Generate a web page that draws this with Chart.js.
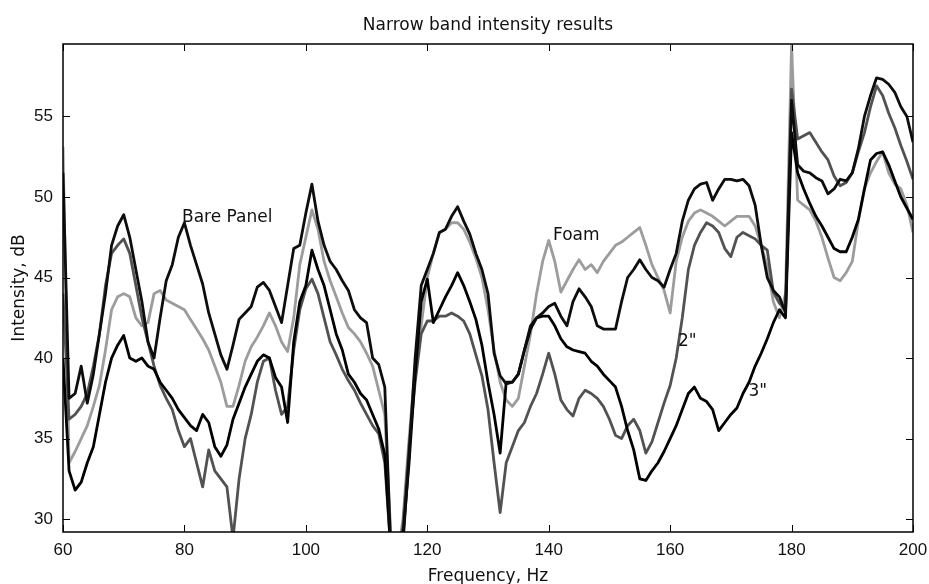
<!DOCTYPE html>
<html>
<head>
<meta charset="utf-8">
<title>Narrow band intensity results</title>
<script src="https://cdn.jsdelivr.net/npm/chart.js@4.4.1/dist/chart.umd.min.js"></script>
<style>
  html, body { margin: 0; padding: 0; background: #fff; overflow: hidden; }
  canvas { display: block; }
</style>
</head>
<body>
<canvas id="myChart" width="929" height="584"></canvas>
<script>
// frequency axis, Hz
const freq = [
  60, 61, 62, 63, 64, 65, 66, 67, 68, 69, 70, 71, 72, 73, 74, 75, 76, 77, 78, 79,
  80, 81, 82, 83, 84, 85, 86, 87, 88, 89, 90, 91, 92, 93, 94, 95, 96, 97, 98, 99,
  100, 101, 102, 103, 104, 105, 106, 107, 108, 109, 110, 111, 112, 113, 114, 115, 116, 117, 118, 119,
  120, 121, 122, 123, 124, 125, 126, 127, 128, 129, 130, 131, 132, 133, 134, 135, 136, 137, 138, 139,
  140, 141, 142, 143, 144, 145, 146, 147, 148, 149, 150, 151, 152, 153, 154, 155, 156, 157, 158, 159,
  160, 161, 162, 163, 164, 165, 166, 167, 168, 169, 170, 171, 172, 173, 174, 175, 176, 177, 178, 179,
  180, 181, 182, 183, 184, 185, 186, 187, 188, 189, 190, 191, 192, 193, 194, 195, 196, 197, 198, 199,
  200
];

// intensity, dB (one value per Hz)
const barePanel = [
  51.5, 37.5, 37.8, 39.5, 37.2, 39.0, 41.5, 44.0, 47.0, 48.2,
  48.9, 47.5, 45.5, 43.5, 41.0, 40.0, 42.5, 44.8, 45.8, 47.5,
  48.4, 47.0, 45.8, 44.6, 42.8, 41.5, 40.2, 39.3, 40.8, 42.4,
  42.8, 43.2, 44.4, 44.7, 44.2, 43.2, 42.2, 44.5, 46.8, 47.0,
  49.0, 50.8, 48.5, 47.0, 46.0, 45.5, 44.8, 44.2, 43.0, 42.5,
  42.2, 40.0, 39.6, 38.2, 28.0, 27.0, 28.5, 34.0, 40.0, 44.5,
  45.5, 46.5, 47.8, 48.0, 48.8, 49.4, 48.5, 47.7, 46.5, 45.5,
  44.0, 40.3, 38.9, 38.4, 38.5, 39.0, 40.5, 42.0, 42.5, 42.8,
  43.2, 43.4, 42.6, 42.0, 43.5, 44.3, 43.8, 43.2, 42.0, 41.8,
  41.8, 41.8, 43.5, 45.0, 45.5, 46.1, 45.5, 45.0, 44.8, 44.4,
  45.5, 46.5, 48.5, 49.8, 50.5, 50.8, 50.9, 49.8, 50.5, 51.1,
  51.1, 51.0, 51.1, 50.7, 49.5, 47.0, 45.0, 44.2, 43.8, 42.8,
  56.0, 52.0, 51.6, 51.5, 51.2, 51.0, 50.2, 50.5, 51.1, 51.0,
  51.5, 53.0, 55.0, 56.3, 57.4, 57.3, 57.0, 56.5, 55.6, 55.0,
  53.4
];

const foam = [
  53.1, 33.5, 34.2, 35.0, 35.8, 37.0, 38.3, 40.5, 43.0, 43.8,
  44.0, 43.8, 42.5, 42.0, 42.2, 44.0, 44.2, 43.6, 43.4, 43.2,
  43.0, 42.4, 41.8, 41.2, 40.5, 39.5, 38.5, 37.0, 37.0, 38.3,
  39.8, 40.7, 41.3, 42.0, 42.8, 42.0, 41.0, 40.4, 42.5, 45.8,
  47.5, 49.2, 48.0, 46.0, 44.8, 43.8, 42.8, 41.9, 41.5, 41.0,
  40.3, 39.5, 38.0, 36.5, 29.0, 27.5, 30.0, 35.0, 39.5, 42.0,
  45.0, 46.5, 47.8, 48.0, 48.4, 48.4, 48.0, 47.2, 46.2, 45.0,
  43.0, 40.5, 38.5, 37.4, 37.0, 37.5, 39.5, 41.5, 44.0, 46.0,
  47.3, 46.0, 44.1, 44.8, 45.5, 46.1, 45.5, 45.8, 45.3, 46.0,
  46.5, 47.0, 47.2, 47.5, 47.8, 48.1, 47.0, 45.8, 45.0, 44.2,
  42.8, 46.0, 47.5, 48.5, 49.0, 49.2, 49.0, 48.8, 48.5, 48.2,
  48.5, 48.8, 48.8, 48.8, 48.2, 47.0, 45.7, 43.5, 42.5, 44.0,
  59.4, 49.8, 49.5, 49.2, 48.5, 47.5, 46.2, 45.0, 44.8, 45.3,
  46.0, 48.5, 50.5, 51.5, 52.2, 52.8, 51.5, 50.8, 50.5, 49.5,
  47.8
];

const twoInch = [
  44.0, 36.2, 36.5, 37.0, 37.8, 39.5, 41.5, 44.5, 46.5, 47.0,
  47.4, 46.5, 44.5, 42.5, 41.0, 39.5, 38.3, 37.5, 36.8, 35.5,
  34.5, 35.0, 33.5, 32.0, 34.3, 33.0, 32.5, 32.0, 28.8, 32.5,
  35.0, 36.5, 38.5, 39.8, 40.0, 38.0, 36.5, 37.0, 40.5, 43.0,
  44.3, 44.9, 44.0, 42.5, 41.0, 40.2, 39.3, 38.6, 38.0, 37.2,
  36.5, 35.8, 35.3, 33.5, 28.0, 27.5, 29.5, 34.5, 38.5, 41.5,
  42.3, 42.3, 42.6, 42.6, 42.8, 42.6, 42.3, 41.5, 40.2, 38.9,
  36.8, 33.5, 30.4, 33.5, 34.5, 35.5, 36.0, 37.0, 37.8, 39.0,
  40.3, 39.0, 37.4, 36.8, 36.4, 37.5, 38.0, 37.8, 37.5, 37.0,
  36.2, 35.2, 35.0, 35.8, 36.2, 35.5, 34.1, 34.8, 36.0, 37.2,
  38.3, 40.0, 42.5, 45.5, 47.0, 47.8, 48.4, 48.2, 47.8, 46.8,
  46.3, 47.5, 47.8, 47.6, 47.4, 47.0, 46.7, 44.1, 43.4, 43.0,
  56.7, 53.6, 53.8, 54.0, 53.4, 52.8, 52.3, 51.3, 50.7, 50.9,
  51.5, 52.8, 54.0, 55.6, 56.9, 56.3, 55.2, 54.3, 53.2, 52.2,
  51.1
];

const threeInch = [
  40.0, 33.0, 31.8, 32.3, 33.5, 34.5, 36.5, 38.5, 40.0, 40.8,
  41.4, 40.0, 39.8, 40.0, 39.5, 39.3, 38.5, 38.0, 37.5, 36.8,
  36.3, 35.8, 35.5, 36.5, 36.0, 34.5, 33.9, 34.6, 36.2, 37.2,
  38.2, 39.0, 39.8, 40.2, 40.0, 38.8, 38.2, 36.0, 41.0, 43.5,
  44.5, 46.7, 45.5, 44.5, 43.0, 41.5, 40.5, 39.0, 38.5, 37.8,
  37.4, 36.5, 35.6, 34.0, 28.0, 27.0, 29.0, 33.5, 39.0, 43.5,
  44.9, 42.2, 43.0, 43.8, 44.5, 45.3, 44.5, 43.5, 42.4, 40.8,
  38.5, 36.5, 34.1, 38.5, 38.5, 39.0, 40.5, 41.8, 42.5, 42.6,
  42.6, 42.0, 41.2, 40.7, 40.5, 40.4, 40.3, 39.8, 39.5, 39.0,
  38.6, 38.2, 37.0, 35.5, 34.3, 32.5, 32.4, 33.0, 33.5, 34.2,
  35.0, 35.8, 36.8, 37.8, 38.2, 37.5, 37.3, 36.8, 35.5, 36.0,
  36.5, 36.9, 37.8, 38.5, 39.5, 40.3, 41.2, 42.2, 43.0, 42.5,
  54.0, 51.5, 50.5, 49.6, 48.8, 48.2, 47.5, 46.8, 46.6, 46.6,
  47.5, 48.6, 50.5, 52.3, 52.7, 52.8, 52.0, 51.0, 50.0, 49.3,
  48.6
];

const xTicks = [60, 80, 100, 120, 140, 160, 180, 200];
const yTicks = [30, 35, 40, 45, 50, 55];

// text placed next to the curves (frequency of the left edge, dB of the middle)
const curveLabels = [
  { text: 'Bare Panel', x: 79.6, y: 48.7 },
  { text: 'Foam', x: 140.7, y: 47.6 },
  { text: '2"', x: 161.3, y: 41.0 },
  { text: '3"', x: 172.9, y: 37.9 }
];

const textFont = { family: '"DejaVu Sans", sans-serif', size: 17, weight: 'normal' };
const tickFont = { family: '"Liberation Sans", Arial, sans-serif', size: 17, weight: 'normal' };

function toPoints(values) {
  return values.map((v, i) => ({ x: freq[i], y: v }));
}

// matlab style box with inward ticks, plus the curve labels
const boxPlugin = {
  id: 'boxPlugin',
  afterDatasetsDraw(chart) {
    const { ctx, chartArea: a } = chart;
    const xs = chart.scales.x;
    const ys = chart.scales.y;
    ctx.save();
    ctx.strokeStyle = '#000';
    ctx.lineWidth = 1;
    ctx.beginPath();
    xTicks.forEach((v) => {
      const px = Math.round(xs.getPixelForValue(v)) + 0.5;
      ctx.moveTo(px, a.bottom);
      ctx.lineTo(px, a.bottom - 7);
      ctx.moveTo(px, a.top);
      ctx.lineTo(px, a.top + 7);
    });
    yTicks.forEach((v) => {
      const py = Math.round(ys.getPixelForValue(v)) + 0.5;
      ctx.moveTo(a.left, py);
      ctx.lineTo(a.left + 7, py);
      ctx.moveTo(a.right, py);
      ctx.lineTo(a.right - 7, py);
    });
    ctx.stroke();
    ctx.lineWidth = 1.5;
    ctx.strokeRect(a.left, a.top, a.right - a.left, a.bottom - a.top);

    ctx.fillStyle = '#111';
    ctx.font = '17px "DejaVu Sans", sans-serif';
    ctx.textAlign = 'left';
    ctx.textBaseline = 'middle';
    curveLabels.forEach((l) => {
      ctx.fillText(l.text, xs.getPixelForValue(l.x), ys.getPixelForValue(l.y));
    });
    ctx.restore();
  }
};

function lineSet(label, values, color) {
  return {
    label: label,
    data: toPoints(values),
    borderColor: color,
    borderWidth: 2.8,
    pointRadius: 0,
    tension: 0,
    fill: false,
    clip: 0,
    borderJoinStyle: 'round'
  };
}

new Chart(document.getElementById('myChart'), {
  type: 'line',
  data: {
    datasets: [
      lineSet('Bare Panel', barePanel, '#0d0d0d'),
      lineSet('3"', threeInch, '#000000'),
      lineSet('2"', twoInch, '#525252'),
      lineSet('Foam', foam, '#9c9c9c')
    ]
  },
  options: {
    responsive: false,
    animation: false,
    layout: { autoPadding: false, padding: { left: 0, right: 16, top: 0, bottom: 0 } },
    plugins: {
      legend: { display: false },
      tooltip: { enabled: false },
      title: {
        display: true,
        text: 'Narrow band intensity results',
        fullSize: false,
        color: '#111',
        font: textFont,
        padding: { top: 15, bottom: 8.6 }
      }
    },
    scales: {
      x: {
        type: 'linear',
        min: 60,
        max: 200,
        grid: { display: false, drawTicks: false },
        border: { display: false },
        ticks: { color: '#111', font: tickFont, padding: 8, maxRotation: 0 },
        afterBuildTicks: (s) => { s.ticks = xTicks.map((v) => ({ value: v })); },
        afterFit: (s) => {
          s.height = 52;
          s.paddingLeft = 0;
          s.paddingRight = 0;
        },
        title: {
          display: true,
          text: 'Frequency, Hz',
          color: '#111',
          font: { ...textFont, lineHeight: 0.9 },
          padding: { top: 0, bottom: 0 }
        }
      },
      y: {
        type: 'linear',
        min: 29.2,
        max: 59.5,
        grid: { display: false, drawTicks: false },
        border: { display: false },
        ticks: { color: '#111', font: tickFont, padding: 10 },
        afterBuildTicks: (s) => { s.ticks = yTicks.map((v) => ({ value: v })); },
        afterFit: (s) => {
          s.width = 63;
          s.paddingTop = 0;
          s.paddingBottom = 0;
        },
        title: {
          display: true,
          text: 'Intensity, dB',
          color: '#111',
          font: { ...textFont, lineHeight: 1.1 },
          padding: { top: 10, bottom: 0 }
        }
      }
    }
  },
  plugins: [boxPlugin]
});
</script>
</body>
</html>
